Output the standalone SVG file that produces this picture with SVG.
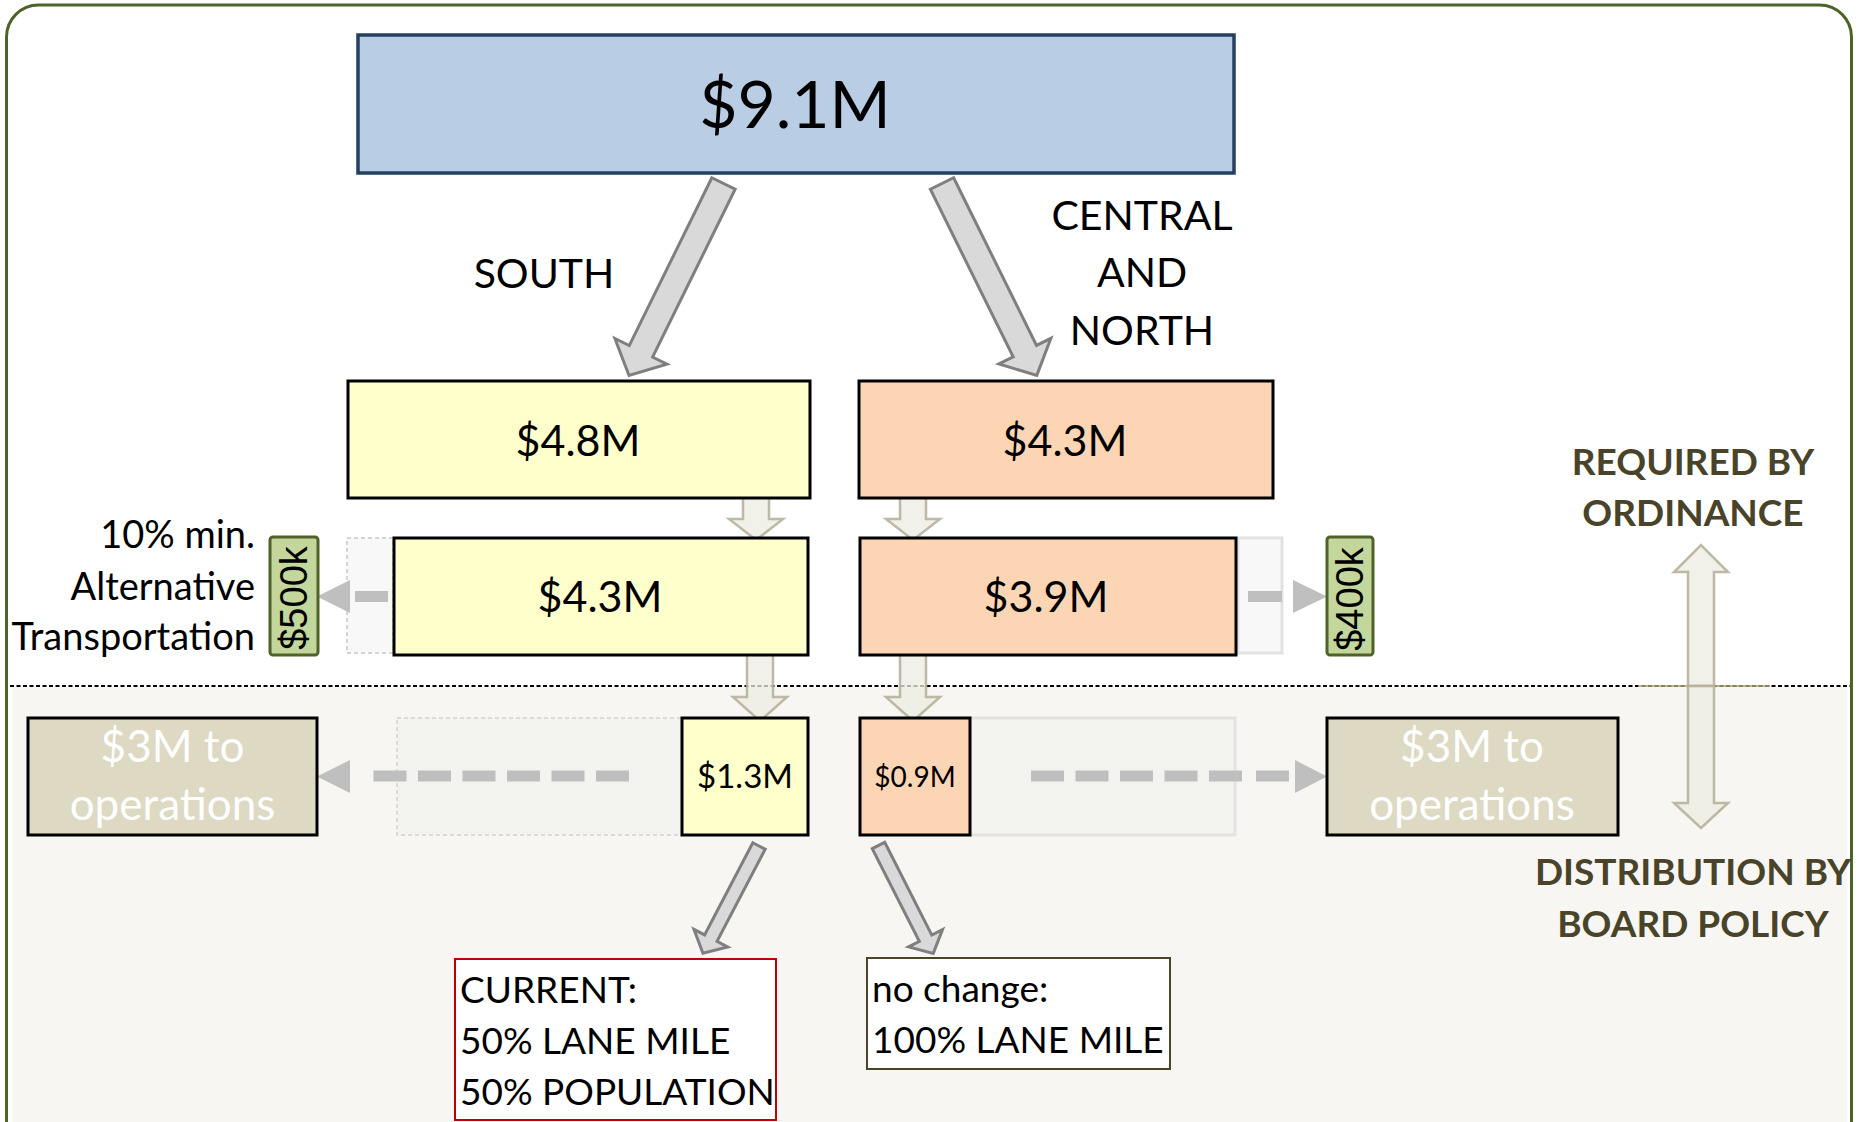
<svg xmlns="http://www.w3.org/2000/svg" width="1860" height="1122" viewBox="0 0 1860 1122">
<style>
.t{font-family:Lato,"Open Sans","Liberation Sans",sans-serif;fill:#000}
.c{text-anchor:middle}
.b{font-weight:bold;fill:#494429}
.w{fill:#ffffff}
.box{stroke:#000;stroke-width:3}
.yel{fill:#ffffcc}
.org{fill:#fcd5b5}
.ops{fill:#ddd9c3}
.grn{fill:#c3d69b;stroke:#4f6228;stroke-width:3}
.gk{font-family:"Liberation Sans",Arial,sans-serif;font-size:38px;text-anchor:middle;fill:#000}
.bigarr{fill:#d9d9d9;stroke:#7f7f7f;stroke-width:3;stroke-linejoin:miter}
.varr{fill:#eeece1;fill-opacity:0.75;stroke:#b3ae98;stroke-opacity:0.85;stroke-width:2.5}
.gd{fill:#bfbfbf}
</style>

<!-- frame and backgrounds -->
<rect x="6.5" y="5" width="1845" height="1200" rx="32" ry="32" fill="#ffffff" stroke="#4f6228" stroke-width="3"/>
<rect x="12" y="686" width="1835" height="440" fill="#f7f6f2"/>
<line x1="10" y1="686" x2="1850" y2="686" stroke="#000" stroke-width="1.8" stroke-dasharray="4,2.5"/>
<line x1="1638" y1="686" x2="1770" y2="686" stroke="#aaa374" stroke-width="1.8" stroke-opacity="0.8"/>

<!-- faint placeholder rects -->
<rect x="347" y="538" width="46" height="115" fill="#f8f8f8" stroke="#c8c8c8" stroke-width="1.5" stroke-dasharray="4,3"/>
<rect x="1238" y="538" width="44" height="115" fill="#f8f8f8" stroke="#e2e2e2" stroke-width="3"/>
<rect x="397" y="718" width="285" height="117" fill="#f3f3f0" stroke="#d2d2d2" stroke-width="1.5" stroke-dasharray="4,3"/>
<rect x="970" y="718" width="265" height="117" fill="#f3f3f0" stroke="#e2e2e2" stroke-width="3"/>

<g id="connectors">
  <!-- big slanted arrows -->
  <path class="bigarr" transform="translate(723.5,183.5) rotate(26.2)" d="M-13,0 L13,0 L13,187 L29,187 L0,214 L-29,187 L-13,187 Z"/>
  <path class="bigarr" transform="translate(942,183.5) rotate(-26.3)" d="M-13,0 L13,0 L13,187 L29,187 L0,214 L-29,187 L-13,187 Z"/>
  <!-- small slanted arrows -->
  <path class="bigarr" transform="translate(759,846) rotate(27.6)" d="M-7,0 L7,0 L7,104 L19,104 L0,121 L-19,104 L-7,104 Z"/>
  <path class="bigarr" transform="translate(878.5,845.5) rotate(-26.9)" d="M-7,0 L7,0 L7,104 L19,104 L0,121 L-19,104 L-7,104 Z"/>
  <!-- vertical beige arrows -->
  <path class="varr" d="M743,497 L769,497 L769,519 L783,519 L756,540 L729,519 L743,519 Z"/>
  <path class="varr" d="M747,654 L773,654 L773,697 L787,697 L760,721 L733,697 L747,697 Z"/>
  <path class="varr" d="M900,497 L926,497 L926,519 L940,519 L913,540 L886,519 L900,519 Z"/>
  <path class="varr" d="M900,654 L926,654 L926,697 L940,697 L913,721 L886,697 L900,697 Z"/>
  <!-- double arrow -->
  <path class="varr" d="M1688,686 L1688,572 L1674,572 L1701,545 L1728,572 L1714,572 L1714,686 Z"/>
  <path class="varr" d="M1688,686 L1688,803 L1674,803 L1701,828 L1728,803 L1714,803 L1714,686 Z"/>
  <!-- dashed gray arrows -->
  <rect class="gd" x="355" y="591" width="33" height="11"/>
  <polygon class="gd" points="350,580 350,613 317,596.5"/>
  <rect class="gd" x="1248" y="591" width="34" height="11"/>
  <polygon class="gd" points="1293,580 1293,613 1327,596.5"/>
  <g class="gd">
    <rect x="596" y="770.5" width="33" height="11"/>
    <rect x="551.5" y="770.5" width="33" height="11"/>
    <rect x="507" y="770.5" width="33" height="11"/>
    <rect x="462.5" y="770.5" width="33" height="11"/>
    <rect x="418" y="770.5" width="33" height="11"/>
    <rect x="373.5" y="770.5" width="33" height="11"/>
    <polygon points="350,760 350,793 317,776.5"/>
    <rect x="1031" y="770.5" width="33" height="11"/>
    <rect x="1075.5" y="770.5" width="33" height="11"/>
    <rect x="1120" y="770.5" width="33" height="11"/>
    <rect x="1164.5" y="770.5" width="33" height="11"/>
    <rect x="1209" y="770.5" width="33" height="11"/>
    <rect x="1256" y="770.5" width="33" height="11"/>
    <polygon points="1295,760 1295,793 1327,776.5"/>
  </g>
</g>

<g id="n-total">
  <rect x="358" y="35" width="876" height="138" fill="#b9cde5" stroke="#243f60" stroke-width="3.5"/>
  <text class="t c" x="795" y="128" font-size="66">$9.1M</text>
</g>

<g id="lbl-south"><text class="t c" x="544" y="288" font-size="41">SOUTH</text></g>
<g id="lbl-central">
  <text class="t c" x="1142" y="230" font-size="41">CENTRAL</text>
  <text class="t c" x="1142" y="287" font-size="41">AND</text>
  <text class="t c" x="1142" y="345" font-size="41">NORTH</text>
</g>

<g id="n-s48"><rect class="box yel" x="348" y="381" width="462" height="117"/><text class="t c" x="578" y="456" font-size="43">$4.8M</text></g>
<g id="n-c43"><rect class="box org" x="859" y="381" width="414" height="117"/><text class="t c" x="1065" y="456" font-size="43">$4.3M</text></g>
<g id="n-s43"><rect class="box yel" x="394" y="538" width="414" height="117"/><text class="t c" x="600" y="612" font-size="43">$4.3M</text></g>
<g id="n-c39"><rect class="box org" x="860" y="538" width="376" height="117"/><text class="t c" x="1046" y="612" font-size="43">$3.9M</text></g>

<g id="lbl-alt">
  <text class="t" x="255" y="548" font-size="38" text-anchor="end">10% min.</text>
  <text class="t" x="255" y="600" font-size="38" text-anchor="end">Alternative</text>
  <text class="t" x="255" y="650" font-size="38" text-anchor="end">Transportation</text>
</g>

<g id="n-500k"><rect class="grn" x="270" y="537" width="48" height="118" rx="3"/><text class="gk" transform="translate(307,598) rotate(-90)">$500k</text></g>
<g id="n-400k"><rect class="grn" x="1327" y="537" width="46" height="118" rx="3"/><text class="gk" transform="translate(1363,599) rotate(-90)">$400k</text></g>

<g id="n-ops-left"><rect class="box ops" x="28" y="718" width="289" height="117"/>
  <text class="t c w" x="172.5" y="762" font-size="44">$3M to</text>
  <text class="t c w" x="172.5" y="820" font-size="44">operations</text></g>
<g id="n-ops-right"><rect class="box ops" x="1327" y="718" width="291" height="117"/>
  <text class="t c w" x="1472" y="762" font-size="44">$3M to</text>
  <text class="t c w" x="1472" y="820" font-size="44">operations</text></g>

<g id="n-s13"><rect class="box yel" x="682" y="718" width="126" height="117"/><text class="t c" x="745" y="788" font-size="33">$1.3M</text></g>
<g id="n-c09"><rect class="box org" x="860" y="718" width="110" height="117"/><text class="t c" x="915" y="787" font-size="28">$0.9M</text></g>

<g id="lbl-req">
  <text class="t c b" x="1693" y="475" font-size="37">REQUIRED BY</text>
  <text class="t c b" x="1693" y="526" font-size="37">ORDINANCE</text>
</g>
<g id="lbl-dist">
  <text class="t c b" x="1693" y="885" font-size="37">DISTRIBUTION BY</text>
  <text class="t c b" x="1693" y="937" font-size="37">BOARD POLICY</text>
</g>

<g id="n-current"><rect x="455" y="959" width="321" height="161" fill="#ffffff" stroke="#c00000" stroke-width="2"/>
  <text class="t" x="460" y="1003" font-size="37">CURRENT:</text>
  <text class="t" x="460" y="1054" font-size="37">50% LANE MILE</text>
  <text class="t" x="460" y="1105" font-size="37">50% POPULATION</text></g>
<g id="n-nochange"><rect x="867" y="958" width="303" height="111" fill="#ffffff" stroke="#4a452a" stroke-width="2"/>
  <text class="t" x="872" y="1002" font-size="37">no change:</text>
  <text class="t" x="872" y="1053" font-size="37">100% LANE MILE</text></g>
</svg>
